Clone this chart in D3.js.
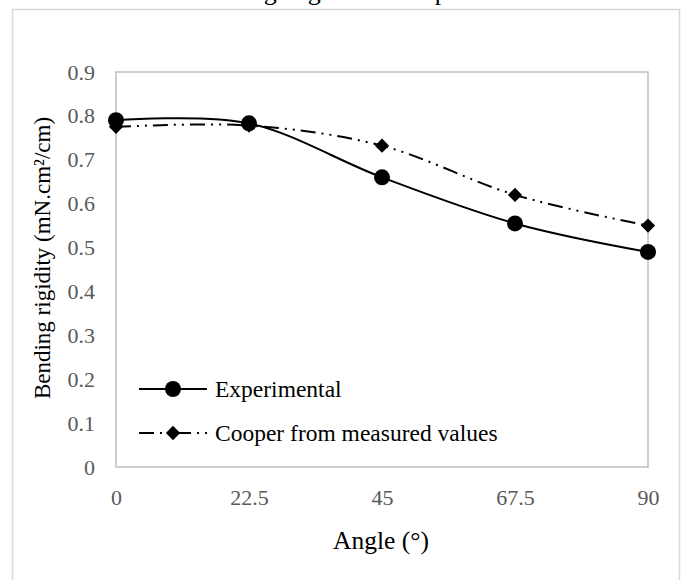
<!DOCTYPE html>
<head>
    <meta charset="utf-8">
    <script src="https://d3js.org/d3.v7.min.js"></script>
    <style>
        body {
            margin: 0;
            background-color: #fff;
        }

        text {
            font-family: "Liberation Serif", "Times New Roman", serif;
        }

        .axis path,
        .axis line {
            display: none;
        }

        .axis text {
            font-size: 22px;
            fill: #595959;
        }

        .axis-title {
            font-size: 23px;
            fill: #000;
        }

        .legend text {
            font-size: 23.5px;
            fill: #000;
        }
    </style>
</head>

<body>
    <script>
        var width = 683,
            height = 580;

        // data
        var angles = [0, 22.5, 45, 67.5, 90];
        var experimental = [0.79, 0.783, 0.66, 0.555, 0.49];
        var cooper = [0.775, 0.778, 0.732, 0.62, 0.55];
        var yTicks = [0, 0.1, 0.2, 0.3, 0.4, 0.5, 0.6, 0.7, 0.8, 0.9];
        var seriesNames = ["Experimental", "Cooper from measured values"];

        var plot = {left: 116, right: 648, top: 72, bottom: 467};

        var svg = d3.select("body").append("svg")
            .attr("width", width)
            .attr("height", height);

        // outer chart frame (runs past the bottom of the view)
        svg.append("rect")
            .attr("x", 12.5)
            .attr("y", 9.5)
            .attr("width", 667)
            .attr("height", 600)
            .attr("fill", "none")
            .attr("stroke", "#d9d9d9")
            .attr("stroke-width", 1.5);

        // title, mostly cut off above the view
        svg.append("text")
            .attr("x", 350)
            .attr("y", 0)
            .attr("text-anchor", "middle")
            .style("font-size", "26px")
            .text("Bending angle and comparison");

        var x = d3.scaleLinear()
            .domain([0, 90])
            .range([plot.left, plot.right]);

        var y = d3.scaleLinear()
            .domain([0, 0.9])
            .range([plot.bottom, plot.top]);

        // plot area border
        svg.append("rect")
            .attr("x", plot.left)
            .attr("y", plot.top)
            .attr("width", plot.right - plot.left)
            .attr("height", plot.bottom - plot.top)
            .attr("fill", "none")
            .attr("stroke", "#bfbfbf")
            .attr("stroke-width", 1.5);

        svg.append("g")
            .attr("class", "axis")
            .attr("transform", "translate(" + (plot.left - 6) + ",0)")
            .call(d3.axisLeft(y).tickValues(yTicks).tickSize(0).tickPadding(15)
                .tickFormat(function(d) { return d === 0 ? "0" : d3.format(".1f")(d); }));

        svg.append("g")
            .attr("class", "axis")
            .attr("transform", "translate(0," + plot.bottom + ")")
            .call(d3.axisBottom(x).tickValues(angles).tickSize(0).tickPadding(22)
                .tickFormat(function(d) { return d; }));

        svg.append("text")
            .attr("class", "axis-title")
            .attr("transform", "translate(50," + 258 + ") rotate(-90)")
            .attr("text-anchor", "middle")
            .text("Bending rigidity (mN.cm²/cm)");

        svg.append("text")
            .attr("class", "axis-title")
            .attr("x", 381)
            .attr("y", 549)
            .attr("text-anchor", "middle")
            .style("font-size", "25.5px")
            .text("Angle (°)");

        var line = d3.line()
            .x(function(d) { return x(d[0]); })
            .y(function(d) { return y(d[1]); })
            .curve(d3.curveCardinal.tension(0));

        // long dash, dot, dot
        var dashes = "15,6,2,6,2,6";
        var diamond = d3.symbol().type(d3.symbolDiamond2).size(130);

        var expData = angles.map(function(a, i) { return [a, experimental[i]]; });
        var coopData = angles.map(function(a, i) { return [a, cooper[i]]; });

        svg.append("path")
            .datum(coopData)
            .attr("d", line)
            .attr("fill", "none")
            .attr("stroke", "#000")
            .attr("stroke-width", 2)
            .attr("stroke-dasharray", dashes);

        svg.append("path")
            .datum(expData)
            .attr("d", line)
            .attr("fill", "none")
            .attr("stroke", "#000")
            .attr("stroke-width", 2);

        svg.selectAll(".diamond")
            .data(coopData)
            .enter().append("path")
            .attr("class", "diamond")
            .attr("transform", function(d) { return "translate(" + x(d[0]) + "," + y(d[1]) + ")"; })
            .attr("d", diamond);

        svg.selectAll(".dot")
            .data(expData)
            .enter().append("circle")
            .attr("class", "dot")
            .attr("cx", function(d) { return x(d[0]); })
            .attr("cy", function(d) { return y(d[1]); })
            .attr("r", 8);

        // legend
        var legend = svg.append("g")
            .attr("class", "legend")
            .attr("transform", "translate(139,389)");

        legend.append("line")
            .attr("x1", 0).attr("x2", 68)
            .attr("stroke", "#000").attr("stroke-width", 2);
        legend.append("circle")
            .attr("cx", 34).attr("r", 8);
        legend.append("text")
            .attr("x", 76).attr("dy", "0.33em")
            .text(seriesNames[0]);

        var legend2 = legend.append("g")
            .attr("transform", "translate(0,44)");
        legend2.append("line")
            .attr("x1", 0).attr("x2", 68)
            .attr("stroke", "#000").attr("stroke-width", 2)
            .attr("stroke-dasharray", dashes);
        legend2.append("path")
            .attr("transform", "translate(34,0)")
            .attr("d", diamond);
        legend2.append("text")
            .attr("x", 76).attr("dy", "0.33em")
            .text(seriesNames[1]);
    </script>
</body>
